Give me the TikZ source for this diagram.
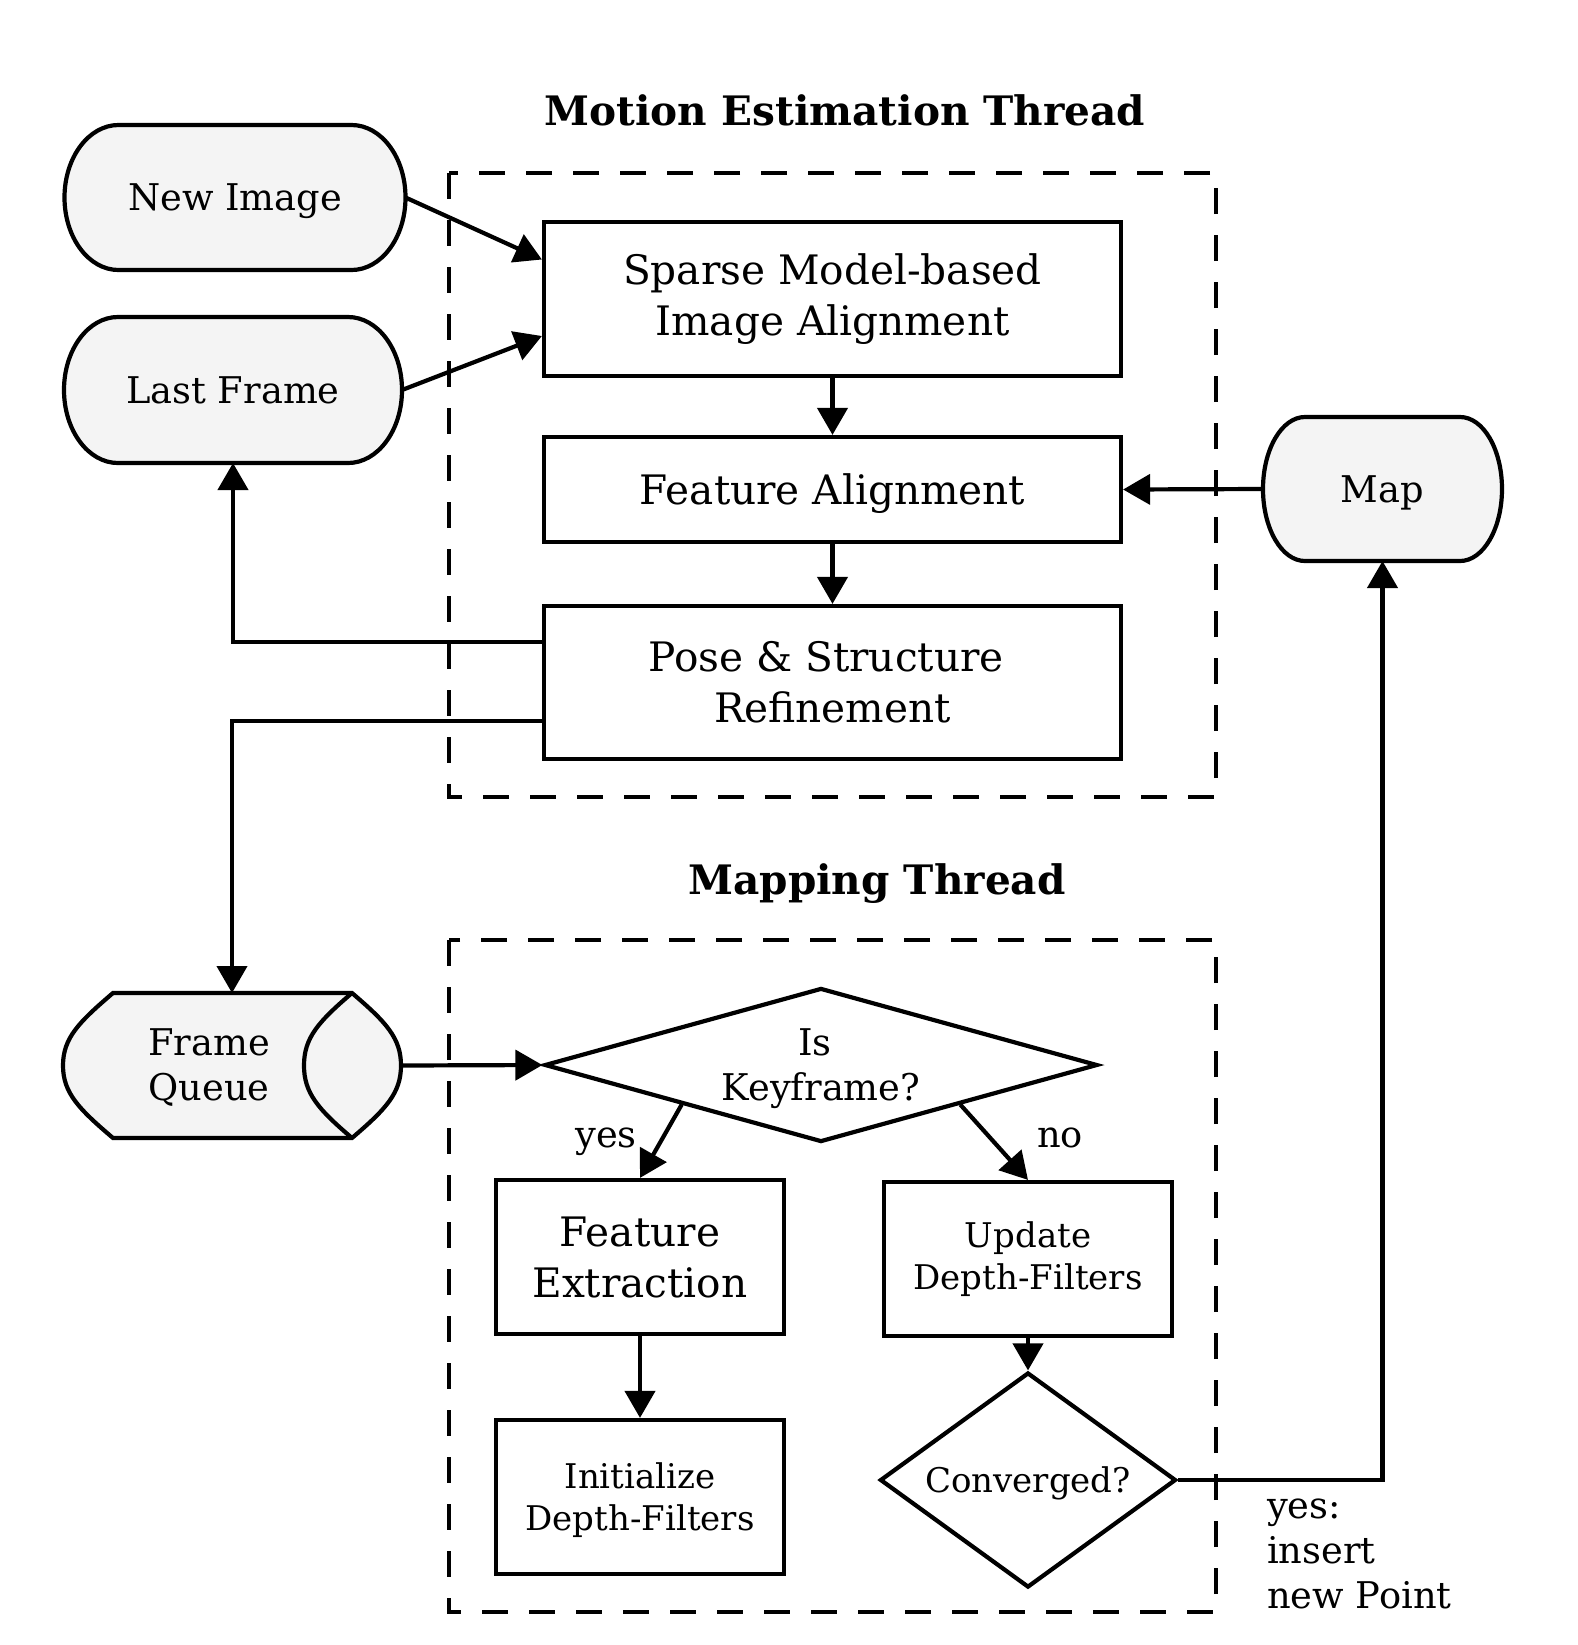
\documentclass[tikz,border=0pt]{standalone}
\usepackage{fontspec}
\setmainfont{DejaVu Serif}
\usetikzlibrary{arrows.meta,shapes.geometric,backgrounds,calc}
\definecolor{shapefill}{HTML}{F4F4F4}
\begin{document}
\begin{tikzpicture}[x=0.5pt,y=-0.5pt,
 line width=2.1pt,
 >={Triangle[length=13.5pt,width=15pt]},
 box/.style={draw,rectangle,inner sep=0pt,align=center},
 ghost/.style={rectangle,inner sep=0pt,outer sep=0pt,align=center},
 bigtxt/.style={font=\fontsize{20.3pt}{25.5pt}\selectfont},
 midtxt/.style={font=\fontsize{18.4pt}{22.5pt}\selectfont},
 smalltxt/.style={font=\fontsize{17pt}{21pt}\selectfont},
 titletxt/.style={font=\bfseries\fontsize{20.3pt}{24pt}\selectfont},
 dec/.style={draw,diamond,inner sep=0pt,align=center},
 flat/.style={text depth=0pt},
 region/.style={draw,line width=2.1pt,dash pattern=on 13pt off 10.5pt},
 shapeline/.style={draw,line width=2.1pt,fill=shapefill}
]
\useasboundingbox (0,0) rectangle (1578,1645);

% titles
\node[titletxt,anchor=base] (t1) at (845,125) {Motion Estimation Thread};
\node[titletxt,anchor=base] (t2) at (877,894) {Mapping Thread};

% motion estimation
\node[box,bigtxt,minimum width=288.5pt,minimum height=77pt] (sparse) at (832.5,299) {Sparse Model-based\\Image Alignment};
\node[box,bigtxt,flat,minimum width=288.5pt,minimum height=52.5pt] (fa) at (832.5,489.5) {Feature Alignment};
\node[box,bigtxt,minimum width=288.5pt,minimum height=76.5pt] (pose) at (832.5,682.5) {Pose \& Structure\hspace*{0.318em}\\Refinement};

% terminals
\node[ghost,midtxt,flat,minimum width=170.5pt,minimum height=72.5pt] (newimg) at (235,197.5) {New Image};
\node[ghost,midtxt,minimum width=169pt,minimum height=73pt] (lastfr) at (233,390) {Last Frame};
\node[ghost,midtxt,flat,minimum width=119.5pt,minimum height=72pt] (map) at (1382.5,489) {Map};
\node[ghost,minimum width=169pt,minimum height=72.5pt] (fq) at (232,1065.5) {};
\node[midtxt,align=center,inner sep=0pt] (fqtext) at (209,1068) {Frame\\Queue};

% mapping
\node[dec,midtxt,flat,aspect=3.59,minimum width=276.5pt,minimum height=77pt] (kf) at (821,1065) {Is\hspace*{0.318em}\\Keyframe?};
\node[box,bigtxt,minimum width=144pt,minimum height=77pt] (fe) at (640,1257) {Feature\\Extraction};
\node[box,smalltxt,flat,minimum width=144pt,minimum height=77pt] (init) at (640,1497) {Initialize\\Depth-Filters};
\node[box,smalltxt,minimum width=144pt,minimum height=77pt] (upd) at (1028,1259) {Update\\Depth-Filters};
\node[dec,flat,font=\fontsize{17pt}{21pt}\selectfont,aspect=1.38,minimum width=148pt,minimum height=107.5pt] (conv) at (1028,1480) {Converged?};

% labels
\node[midtxt,anchor=base,inner sep=0pt] (yeslbl) at (606,1147) {yes};
\node[midtxt,anchor=base,inner sep=0pt] (nolbl) at (1060,1147) {no};
\node[midtxt,anchor=base west,align=left,inner sep=0pt] (yesins) at (1265,1608) {yes:\\insert\\new Point};

% background shapes
\begin{scope}[on background layer]
 \draw[region] (449,173) rectangle (1216,797);
 \draw[region] (449,940) rectangle (1216,1612);
 \draw[shapeline] ([xshift=27pt]newimg.north west) -- ([xshift=-27pt]newimg.north east)
   arc[start angle=90,end angle=-90,x radius=27pt,y radius=36.25pt]
   -- ([xshift=27pt]newimg.south west)
   arc[start angle=270,end angle=90,x radius=27pt,y radius=36.25pt] -- cycle;
 \draw[shapeline] ([xshift=27pt]lastfr.north west) -- ([xshift=-27pt]lastfr.north east)
   arc[start angle=90,end angle=-90,x radius=27pt,y radius=36.5pt]
   -- ([xshift=27pt]lastfr.south west)
   arc[start angle=270,end angle=90,x radius=27pt,y radius=36.5pt] -- cycle;
 \draw[shapeline] ([xshift=21pt]map.north west) -- ([xshift=-21pt]map.north east)
   arc[start angle=90,end angle=-90,x radius=21pt,y radius=36pt]
   -- ([xshift=21pt]map.south west)
   arc[start angle=270,end angle=90,x radius=21pt,y radius=36pt] -- cycle;
 \draw[shapeline] (113,993) -- (352,993)
   .. controls (386,1022) and (401,1038) .. (401,1065.5)
   .. controls (401,1093) and (386,1109) .. (352,1138)
   -- (113,1138)
   .. controls (79,1109) and (63,1093) .. (63,1065.5)
   .. controls (63,1038) and (79,1022) .. (113,993) -- cycle;
 \draw[line width=2.1pt] (352,993) .. controls (318,1022) and (304,1038) .. (304,1065.5)
   .. controls (304,1093) and (318,1109) .. (352,1138);
\end{scope}

% connectors
\draw[->] (newimg.east) -- ([yshift=19.75pt]sparse.west);
\draw[->] (lastfr.east) -- ([yshift=-18.5pt]sparse.west);
\draw[->] (sparse.south) -- (fa.north);
\draw[->] (fa.south) -- (pose.north);
\draw[->] (map.west) -- (fa.east);
\draw[->] ([yshift=20.25pt]pose.west) -| (lastfr.south);
\draw[->] ([yshift=-19.25pt]pose.west) -| (fq.north);
\draw[->] (fq.east) -- (kf.west);
\draw[->] ($(kf.west)!0.5!(kf.south)$) -- (fe.north);
\draw[->] ($(kf.south)!0.5!(kf.east)$) -- (upd.north);
\draw[->] (fe.south) -- (init.north);
\draw[->] (upd.south) -- (conv.north);
\draw[->] (conv.east) -| (map.south);
\end{tikzpicture}
\end{document}
